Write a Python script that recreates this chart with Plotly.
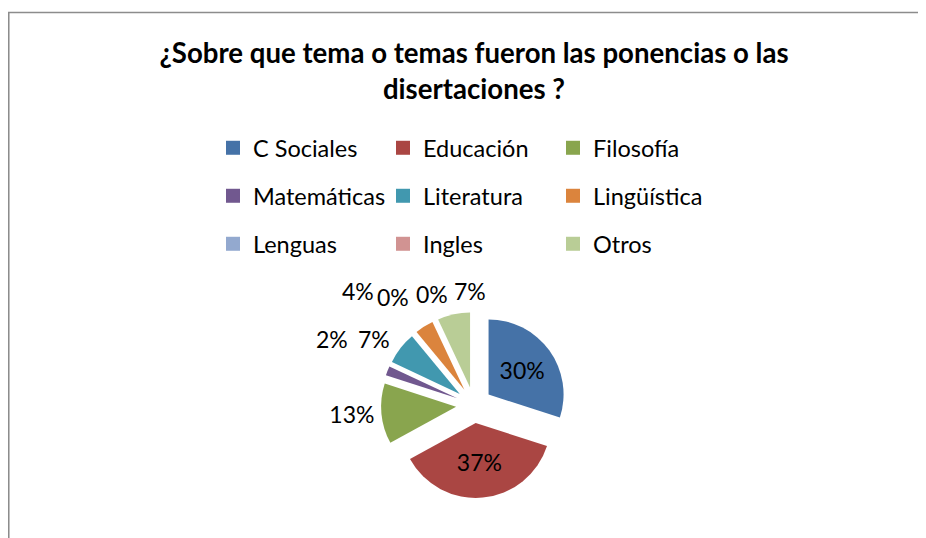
import plotly.graph_objects as go

categories = ["C Sociales", "Educación", "Filosofía", "Matemáticas", "Literatura",
              "Lingüística", "Lenguas", "Ingles", "Otros"]
values = [30, 37, 13, 2, 7, 4, 0, 0, 7]
colors = ["#4572A7", "#AA4643", "#89A54E", "#71588F", "#4198AF",
          "#DB843D", "#93A9CF", "#D19392", "#B9CD96"]
title_text = "¿Sobre que tema o temas fueron las ponencias o las<br>disertaciones ?"

# which slices get the library's own label, and where Excel's "best fit"
# put the remaining (small-slice) labels, in screen pixels
own_label = [True, True, True, False, False, False, False, False, False]
label_pos = {3: (332, 339), 4: (374, 339), 5: (358, 291),
             6: (393, 297), 7: (432, 294), 8: (470, 291)}

W, H = 926, 538
OFF = 8  # page margin of the html body
FONT = "Lato"


def fx(px):
    return (px - OFF) / W


def fy(py):
    return 1 - (py - OFF) / H


total = sum(values)
pct_text = [f"{round(100 * v / total)}%" for v in values]

fig = go.Figure()

fig.add_trace(go.Pie(
    labels=categories,
    values=values,
    marker=dict(colors=colors, line=dict(width=0)),
    sort=False,
    direction="clockwise",
    rotation=0,
    pull=[0.24] * len(values),
    text=pct_text,
    texttemplate=["%{text}" if o else "" for o in own_label],
    textposition=["inside", "inside", "outside"] + ["none"] * 6,
    insidetextfont=dict(family=FONT, size=23, color="#000000"),
    outsidetextfont=dict(family=FONT, size=23, color="#000000"),
    insidetextorientation="horizontal",
    showlegend=False,
    domain=dict(x=[fx(381), fx(567)], y=[fy(498), fy(312)]),
    hoverinfo="label+percent",
))

annotations = []
for i, (x, y) in label_pos.items():
    annotations.append(dict(x=fx(x), y=fy(y), xref="paper", yref="paper",
                            text=pct_text[i], showarrow=False,
                            xanchor="center", yanchor="middle",
                            font=dict(family=FONT, size=23, color="#000000")))

# legend rows (3 per row)
legend_names = ["legend", "legend2", "legend3"]
for i, (cat, col) in enumerate(zip(categories, colors)):
    fig.add_trace(go.Scatter(
        x=[None], y=[None], mode="markers", name=cat,
        marker=dict(symbol="square", size=14, color=col),
        legend=legend_names[i // 3], hoverinfo="skip",
    ))

row_y = [148, 196, 244]
legend_common = dict(orientation="h", xanchor="left", yanchor="middle",
                     font=dict(family=FONT, size=23.5, color="#000000"),
                     entrywidth=125, bgcolor="rgba(0,0,0,0)", borderwidth=0)
LEG_X = fx(213)
fig.update_layout(
    legend=dict(x=LEG_X, y=fy(row_y[0]), **legend_common),
    legend2=dict(x=LEG_X, y=fy(row_y[1]), **legend_common),
    legend3=dict(x=LEG_X, y=fy(row_y[2]), **legend_common),
)

fig.update_layout(
    width=W, height=H,
    margin=dict(l=0, r=0, t=0, b=0),
    paper_bgcolor="white",
    plot_bgcolor="white",
    xaxis=dict(visible=False),
    yaxis=dict(visible=False),
    title=dict(text=title_text, x=fx(474), xanchor="center",
               y=1 - 55 / H, yanchor="top",
               font=dict(family=FONT, size=27.6, color="#000000", weight="bold")),
    annotations=annotations,
    shapes=[dict(type="rect", xref="paper", yref="paper",
                 x0=fx(8.75), x1=1.1, y0=-0.1, y1=fy(12.5),
                 line=dict(color="#8c8c8c", width=1.6), layer="below")],
)

fig.write_html("out.html")
